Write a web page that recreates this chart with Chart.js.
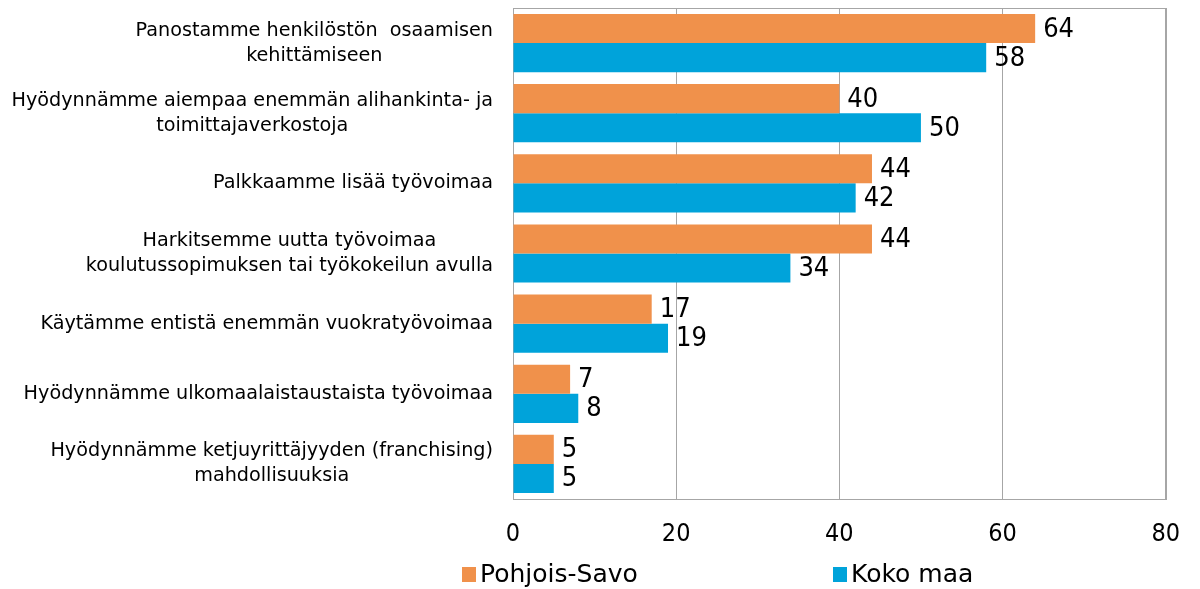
<!DOCTYPE html>
<html>
<head>
<meta charset="utf-8">
<script src="https://cdn.jsdelivr.net/npm/chart.js@4"></script>
<style>
  html, body { margin: 0; padding: 0; background: #fff; }
  #wrap { width: 1200px; height: 589px; }
</style>
</head>
<body>
<div id="wrap"><canvas id="bar-chart"></canvas></div>
<script>
const categories = [
  ['Panostamme henkilöstön  osaamisen', 'kehittämiseen'],
  ['Hyödynnämme aiempaa enemmän alihankinta- ja', 'toimittajaverkostoja'],
  ['Palkkaamme lisää työvoimaa'],
  ['Harkitsemme uutta työvoimaa', 'koulutussopimuksen tai työkokeilun avulla'],
  ['Käytämme entistä enemmän vuokratyövoimaa'],
  ['Hyödynnämme ulkomaalaistaustaista työvoimaa'],
  ['Hyödynnämme ketjuyrittäjyyden (franchising)', 'mahdollisuuksia']
];
const seriesNames = ['Pohjois-Savo', 'Koko maa'];
const pohjoisSavo = [64, 40, 44, 44, 17, 7, 5];
const kokoMaa = [58, 50, 42, 34, 19, 8, 5];
const xTicks = [0, 20, 40, 60, 80];

const ORANGE = '#F0914B';
const BLUE = '#00A3DA';
const GRID = '#A6A6A6';
const NARROW = "'Liberation Sans Narrow', 'DejaVu Sans Condensed', sans-serif";

// category labels: block right aligned, lines centered inside the block
const catLabels = {
  id: 'catLabels',
  afterDraw(chart) {
    const ctx = chart.ctx;
    const y = chart.scales.y;
    ctx.save();
    ctx.font = '19.2px "DejaVu Sans"';
    ctx.fillStyle = '#000';
    ctx.textBaseline = 'middle';
    ctx.textAlign = 'center';
    const lh = 25;
    categories.forEach((lines, i) => {
      const cy = y.getPixelForTick(i);
      const w = Math.max(...lines.map(l => ctx.measureText(l).width));
      const cx = chart.chartArea.left - 20 - w / 2;
      lines.forEach((l, k) => {
        ctx.fillText(l, cx, cy - (lines.length - 1) * lh / 2 + k * lh);
      });
    });
    ctx.restore();
  }
};

// plot frame
const frame = {
  id: 'frame',
  beforeDatasetsDraw(chart) {
    const {ctx, chartArea: a} = chart;
    ctx.save();
    ctx.strokeStyle = GRID;
    ctx.lineWidth = 1;
    ctx.strokeRect(Math.round(a.left) + 0.5, Math.round(a.top) + 0.5, Math.round(a.right - a.left), Math.round(a.bottom - a.top));
    ctx.restore();
  }
};

// value labels at bar ends
const valueLabels = {
  id: 'valueLabels',
  afterDatasetsDraw(chart) {
    const ctx = chart.ctx;
    ctx.save();
    ctx.font = '27px ' + NARROW;
    ctx.fillStyle = '#000';
    ctx.textBaseline = 'middle';
    ctx.textAlign = 'left';
    chart.data.datasets.forEach((ds, di) => {
      chart.getDatasetMeta(di).data.forEach((bar, i) => {
        ctx.fillText(ds.data[i], bar.x + 8, bar.y + 1);
      });
    });
    ctx.restore();
  }
};

// legend under the axis
const bottomLegend = {
  id: 'bottomLegend',
  afterDraw(chart) {
    const ctx = chart.ctx;
    const xs = [462, 833];
    ctx.save();
    ctx.font = '25px "DejaVu Sans"';
    ctx.textBaseline = 'middle';
    ctx.textAlign = 'left';
    chart.data.datasets.forEach((ds, i) => {
      ctx.fillStyle = ds.backgroundColor;
      ctx.fillRect(xs[i], 567, 14, 15);
      ctx.fillStyle = '#000';
      ctx.fillText(ds.label, xs[i] + 18, 575);
    });
    ctx.restore();
  }
};

const ctx = document.getElementById('bar-chart');

new Chart(ctx, {
  type: 'bar',
  data: {
    labels: categories.map(c => c.join(' ')),
    datasets: [{
      label: seriesNames[0],
      data: pohjoisSavo,
      backgroundColor: ORANGE,
      categoryPercentage: 0.83,
      barPercentage: 1
    }, {
      label: seriesNames[1],
      data: kokoMaa,
      backgroundColor: BLUE,
      categoryPercentage: 0.83,
      barPercentage: 1
    }]
  },
  plugins: [frame, valueLabels, catLabels, bottomLegend],
  options: {
    indexAxis: 'y',
    responsive: true,
    maintainAspectRatio: false,
    animation: false,
    layout: {
      padding: { top: 8, right: 34, bottom: 20, left: 0 }
    },
    plugins: {
      legend: { display: false },
      tooltip: { enabled: false }
    },
    scales: {
      x: {
        min: xTicks[0],
        max: xTicks[xTicks.length - 1],
        afterBuildTicks: (scale) => {
          scale.ticks = xTicks.map(v => ({ value: v }));
        },
        grid: { color: GRID, drawTicks: false },
        border: { display: false },
        ticks: {
          padding: 20,
          color: '#000',
          font: { family: NARROW, size: 25 }
        }
      },
      y: {
        grid: { display: false },
        border: { display: false },
        ticks: { display: false },
        afterFit: (scale) => { scale.width = 513; }
      }
    }
  }
});
</script>
</body>
</html>
